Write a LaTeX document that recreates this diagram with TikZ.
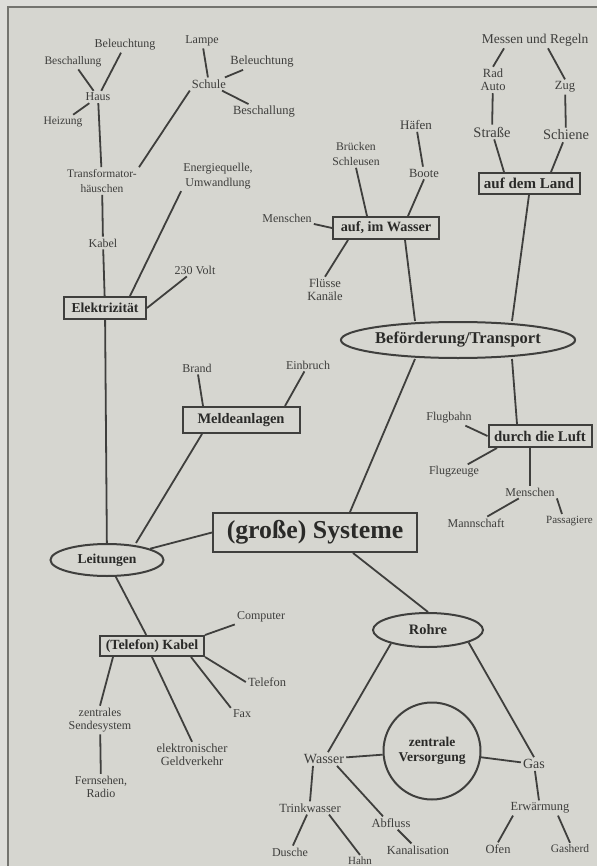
\documentclass[tikz,border=0pt]{standalone}
\usepackage{fontspec}
\setmainfont{Liberation Serif}
\usetikzlibrary{shapes.geometric}
\definecolor{bg}{HTML}{D6D6D0}
\definecolor{bgtop}{HTML}{DEDEDA}
\definecolor{ln}{HTML}{3F3F3D}
\definecolor{txt}{HTML}{3E3E3C}
\definecolor{txtd}{HTML}{2A2A28}
\definecolor{frm}{HTML}{74746F}
\newcommand{\fs}[1]{\fontsize{#1}{#1}\selectfont}
\tikzset{
  lbl/.style={font=\fs{12}, text=txt, inner sep=2pt, align=center},
  lblx/.style={lbl, font=\fontsize{#1}{#1}\selectfont},
  two/.style={lbl, font=\fontsize{12}{13.3}\selectfont},
  twob/.style={lbl, font=\fontsize{12}{15}\selectfont},
  bbox/.style={draw=ln, line width=2pt, text=txtd, inner sep=0pt, font=\bfseries\fs{14.5}},
  oval/.style={ellipse, draw=ln, line width=2pt, text=txtd, inner sep=0pt, font=\bfseries\fs{14}},
  con/.style={draw=ln, line width=1.8pt}
}
\begin{document}
\begin{tikzpicture}[x=1pt,y=-1pt]
\useasboundingbox (0,0) rectangle (597,866);
\fill[bgtop] (0,0) rectangle (597,866);
\fill[bg] (7.5,7.5) rectangle (597,866);
\draw[frm, line width=2pt] (7.5,866) -- (7.5,7.5) -- (597,7.5);

% ---- Elektrizitaet branch
\node[lbl] (bel1) at (125,45) {Beleuchtung};
\node[lblx=11.5] (besch1) at (73,62) {Beschallung};
\node[lbl] (haus) at (98,97) {Haus};
\node[lblx=11.5] (heiz) at (63,122) {Heizung};
\node[lbl] (lampe) at (202,41) {Lampe};
\node[lblx=12.5] (bel2) at (262,62) {Beleuchtung};
\node[lblx=12.5] (schule) at (209,84) {Schule};
\node[lblx=12.5] (besch2) at (264,112) {Beschallung};
\node[twob, font=\fontsize{11.5}{15}\selectfont] (trafo) at (102,181) {Transformator-\\häuschen};
\node[twob] (energie) at (218,176) {Energiequelle,\\Umwandlung};
\node[lbl] (kabel) at (103,243) {Kabel};
\node[lbl] (volt) at (195,270) {230 Volt};
\node[bbox, minimum width=82pt, minimum height=22pt, font=\bfseries\fs{13.7}] (elek) at (105,308) {Elektrizität};

% ---- Meldeanlagen
\node[lbl] (brand) at (197,368) {Brand};
\node[lbl] (einbruch) at (308,365) {Einbruch};
\node[bbox, minimum width=117pt, minimum height=26pt] (meld) at (241,420) {Meldeanlagen};

% ---- Leitungen
\node[oval, minimum width=113pt, minimum height=32pt, font=\bfseries\fs{13.6}] (leit) at (107,560) {Leitungen};
\node[bbox, minimum width=104pt, minimum height=20pt, font=\bfseries\fs{14}] (telkabel) at (152,646) {(Telefon) Kabel};
\node[lbl] (computer) at (261,617) {Computer};
\node[lblx=12.5] (telefon) at (267,682) {Telefon};
\node[lbl] (fax) at (242,714) {Fax};
\node[two, font=\fontsize{12.5}{13.3}\selectfont] (geld) at (192,755) {elektronischer\\Geldverkehr};
\node[two] (sende) at (100,720) {zentrales\\Sendesystem};
\node[two] (fern) at (101,787) {Fernsehen,\\Radio};

% ---- centre
\node[bbox, minimum width=204pt, minimum height=39pt, font=\bfseries\fs{25.8}] (sys) at (315,532.5) {(große) Systeme};

% ---- Befoerderung
\node[oval, minimum width=201pt, minimum height=36pt, font=\bfseries\fs{16.5}] (bef) at (458,340) {Beförderung/Transport};
\node[bbox, minimum width=106pt, minimum height=22pt, font=\bfseries\fs{14.2}] (wbox) at (386,228) {auf, im Wasser};
\node[lbl] (menschen1) at (287,218) {Menschen};
\node[two, font=\fontsize{12.5}{13.3}\selectfont] (fluesse) at (325,290) {Flüsse\\Kanäle};
\node[twob, font=\fontsize{11.7}{15}\selectfont] (bruecken) at (356,154) {Brücken\\Schleusen};
\node[lblx=13] (haefen) at (416,125) {Häfen};
\node[lblx=12.5] (boote) at (424,173) {Boote};
\node[bbox, minimum width=101pt, minimum height=21pt, font=\bfseries\fs{15}] (land) at (529,183.5) {auf dem Land};
\node[lblx=14.5] (strasse) at (492,132) {Straße};
\node[lblx=14.5] (schiene) at (566,135) {Schiene};
\node[two, font=\fontsize{12.5}{13.3}\selectfont] (rad) at (493,80) {Rad\\Auto};
\node[lblx=12.5] (zug) at (565,87) {Zug};
\node[lblx=13.5] (messen) at (535,40) {Messen und Regeln};
\node[bbox, minimum width=103pt, minimum height=22pt, font=\bfseries\fs{14.8}] (luft) at (540,436) {durch die Luft};
\node[lbl] (flugbahn) at (449,418) {Flugbahn};
\node[lbl] (flugzeuge) at (454,472) {Flugzeuge};
\node[lbl] (menschen2) at (530,492) {Menschen};
\node[lbl] (mann) at (476,523) {Mannschaft};
\node[lblx=11, anchor=west, inner xsep=0pt] (pass) at (546,521) {Passagiere};

% ---- Rohre
\node[oval, minimum width=110pt, minimum height=34pt, font=\bfseries\fs{14.4}] (rohre) at (428,630) {Rohre};
\node[circle, draw=ln, line width=2pt, text=txtd, inner sep=0pt, minimum size=97pt, align=center, font=\bfseries\fontsize{13.5}{15}\selectfont] (zv) at (432,751) {zentrale\\Versorgung};
\node[lblx=14] (wasser) at (324,759) {Wasser};
\node[lblx=14] (gas) at (534,764) {Gas};
\node[lblx=12.4] (erw) at (540,808) {Erwärmung};
\node[lblx=12.5] (ofen) at (498,849) {Ofen};
\node[lblx=11.5] (gasherd) at (570,849) {Gasherd};
\node[lblx=12.5] (trink) at (310,808) {Trinkwasser};
\node[lbl] (dusche) at (290,852) {Dusche};
\node[lblx=11] (hahn) at (360,861) {Hahn};
\node[lblx=12.5] (abfluss) at (391,823) {Abfluss};
\node[lblx=12.3] (kanal) at (418,850) {Kanalisation};

% ---- connectors
\draw[con] (besch1) -- (haus);
\draw[con] (bel1) -- (haus);
\draw[con] (heiz) -- (haus);
\draw[con] (haus) -- (trafo);
\draw[con] (lampe) -- (schule);
\draw[con] (schule) -- (bel2);
\draw[con] (schule) -- (besch2);
\draw[con] (schule.south west) -- (trafo.north east);
\draw[con] (trafo) -- (kabel);
\draw[con] (kabel) -- (elek);
\draw[con] (energie.south west) -- ([xshift=25pt]elek.north);
\draw[con] (volt) -- (elek.east);
\draw[con] (elek) -- (leit);
\draw[con] (brand) -- ([xshift=-38pt]meld.north);
\draw[con] (einbruch) -- ([xshift=44pt]meld.north);
\draw[con] ([xshift=-39pt]meld.south) -- ([xshift=29pt]leit.north);
\draw[con] (leit) -- (sys.west);
\draw[con] (leit) -- (telkabel);
\draw[con] (telkabel.north east) -- (computer.south west);
\draw[con] (telkabel.south east) -- (telefon.west);
\draw[con] ([xshift=39pt]telkabel.south) -- (fax.north west);
\draw[con] (telkabel.south) -- (geld.north);
\draw[con] ([xshift=-39pt]telkabel.south) -- (sende.north);
\draw[con] (sende) -- (fern);
\draw[con] ([xshift=35pt]sys.north) -- ([xshift=-43pt]bef.south);
\draw[con] ([xshift=38pt]sys.south) -- (rohre.north);
\draw[con] ([xshift=19pt]wbox.south) -- ([xshift=-43pt]bef.north);
\draw[con] (land.south) -- ([xshift=54pt]bef.north);
\draw[con] ([xshift=54pt]bef.south) -- ([xshift=-23pt]luft.north);
\draw[con] (menschen1) -- (wbox.west);
\draw[con] ([xshift=-38pt]wbox.south) -- (fluesse.north);
\draw[con] (bruecken.south) -- ([xshift=-19pt]wbox.north);
\draw[con] (boote.south) -- ([xshift=22pt]wbox.north);
\draw[con] (haefen) -- (boote);
\draw[con] (strasse) -- ([xshift=-25pt]land.north);
\draw[con] (schiene) -- ([xshift=22pt]land.north);
\draw[con] (rad) -- (strasse);
\draw[con] (zug) -- (schiene);
\draw[con] ([xshift=-31pt]messen.south) -- (rad.north);
\draw[con] ([xshift=13pt]messen.south) -- (zug.north);
\draw[con] (flugbahn) -- (luft.west);
\draw[con] ([xshift=-43pt]luft.south) -- (flugzeuge);
\draw[con] ([xshift=-10pt]luft.south) -- (menschen2.north);
\draw[con] (menschen2) -- (mann);
\draw[con] (menschen2.south east) -- ([xshift=16pt]pass.north west);
\draw[con] (rohre.200) -- (wasser);
\draw[con] (rohre.-17) -- (gas.north);
\draw[con] (wasser) -- (zv);
\draw[con] (zv) -- (gas);
\draw[con] (gas) -- (erw);
\draw[con] ([xshift=-27pt]erw.south) -- (ofen.north);
\draw[con] ([xshift=18pt]erw.south) -- (gasherd.north);
\draw[con] ([xshift=-11pt]wasser.south) -- (trink.north);
\draw[con] ([xshift=13pt]wasser.south) -- ([xshift=-8pt]abfluss.north);
\draw[con] (abfluss) -- (kanal);
\draw[con] (trink) -- (dusche);
\draw[con] ([xshift=19pt]trink.south) -- (hahn.north);
\end{tikzpicture}
\end{document}
